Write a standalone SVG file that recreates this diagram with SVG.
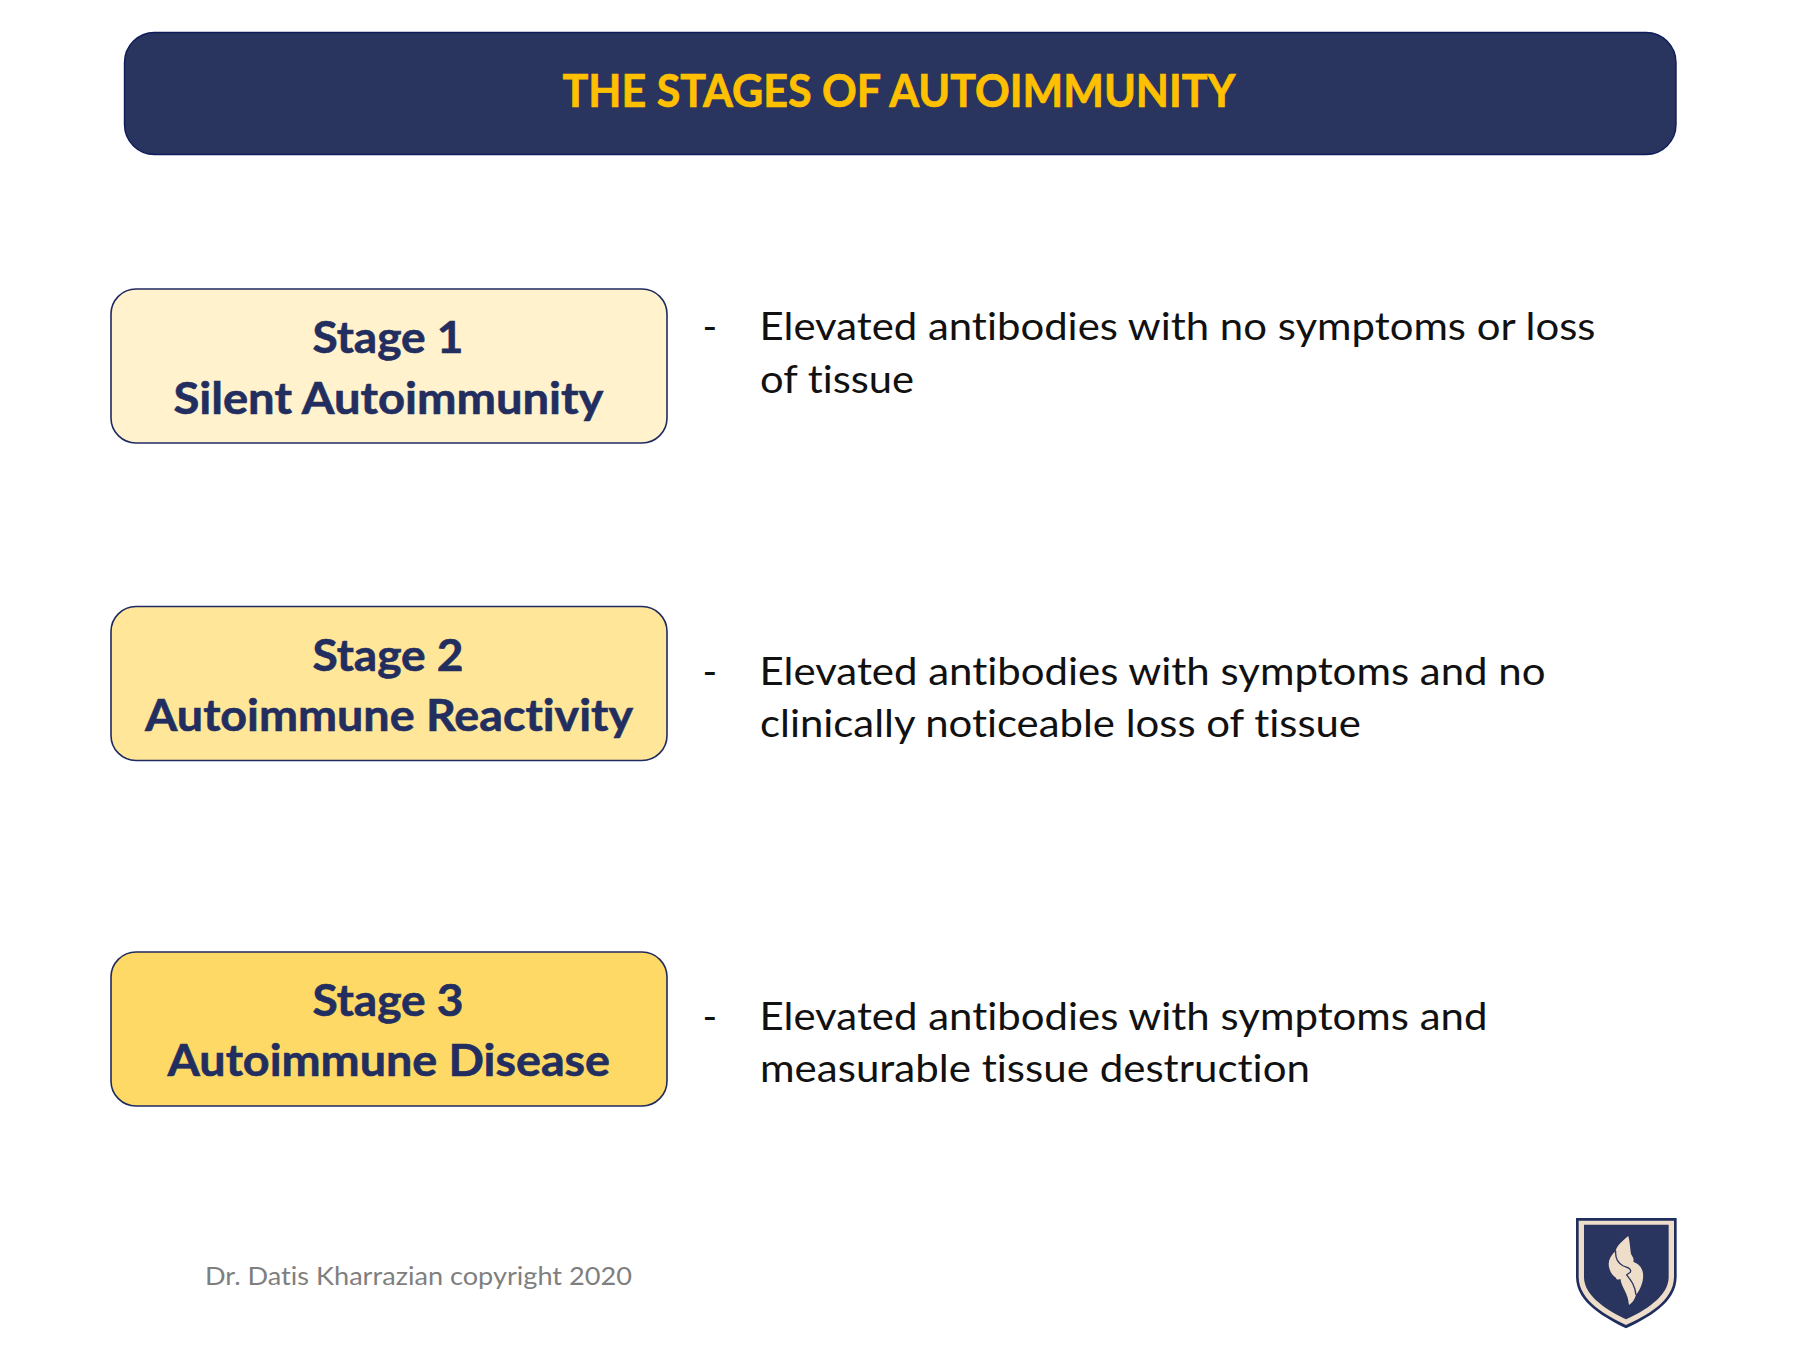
<svg xmlns="http://www.w3.org/2000/svg" width="1800" height="1350" viewBox="0 0 1800 1350">
<style>
text{font-family:"Lato","Liberation Sans",sans-serif;font-variant-ligatures:none}
.box{stroke:#1f2a60;stroke-width:1.6}
.stage{font-weight:700;font-size:44px;fill:#222e5f;stroke:#222e5f;stroke-width:.6}
.body{font-size:39.5px;fill:#111}
.navy{fill:#29345f}
.cream{fill:#eeddc8}
</style>
<rect width="1800" height="1350" fill="#fff"/>
<g id="header">
<rect x="124.500" y="32.500" width="1551.500" height="122" rx="30" fill="#29345f" stroke="#0f1c5c" stroke-width="1.400"/>
<text x="562.500" y="107" font-size="45" font-weight="700" fill="#ffc000" stroke="#ffc000" stroke-width=".7" textLength="673" lengthAdjust="spacingAndGlyphs">THE STAGES OF AUTOIMMUNITY</text>
</g>
<g id="stage1">
<rect class="box" x="111" y="289" width="556" height="154" rx="25" fill="#fff2cc"/>
<text class="stage" x="312.500" y="352.700" textLength="151" lengthAdjust="spacingAndGlyphs">Stage 1</text>
<text class="stage" x="173.500" y="414" textLength="430" lengthAdjust="spacingAndGlyphs">Silent Autoimmunity</text>
</g>
<g id="desc1">
<text class="body" x="702.500" y="340">-</text>
<text class="body" x="759.500" y="340" textLength="836" lengthAdjust="spacingAndGlyphs">Elevated antibodies with no symptoms or loss</text>
<text class="body" x="760" y="392.500" textLength="154" lengthAdjust="spacingAndGlyphs">of tissue</text>
</g>
<g id="stage2">
<rect class="box" x="111" y="606.500" width="556" height="154" rx="25" fill="#ffe699"/>
<text class="stage" x="312.500" y="671" textLength="151" lengthAdjust="spacingAndGlyphs">Stage 2</text>
<text class="stage" x="145" y="731" textLength="488" lengthAdjust="spacingAndGlyphs">Autoimmune Reactivity</text>
</g>
<g id="desc2">
<text class="body" x="702.500" y="684.500">-</text>
<text class="body" x="759.500" y="684.500" textLength="786" lengthAdjust="spacingAndGlyphs">Elevated antibodies with symptoms and no</text>
<text class="body" x="760" y="737" textLength="601" lengthAdjust="spacingAndGlyphs">clinically noticeable loss of tissue</text>
</g>
<g id="stage3">
<rect class="box" x="111" y="952" width="556" height="154" rx="25" fill="#ffd966"/>
<text class="stage" x="312.500" y="1016" textLength="151" lengthAdjust="spacingAndGlyphs">Stage 3</text>
<text class="stage" x="167.500" y="1076" textLength="442.500" lengthAdjust="spacingAndGlyphs">Autoimmune Disease</text>
</g>
<g id="desc3">
<text class="body" x="702.500" y="1030">-</text>
<text class="body" x="759.500" y="1030" textLength="728" lengthAdjust="spacingAndGlyphs">Elevated antibodies with symptoms and</text>
<text class="body" x="760" y="1082" textLength="550" lengthAdjust="spacingAndGlyphs">measurable tissue destruction</text>
</g>
<g id="footer">
<text x="205" y="1285" font-size="25" fill="#7f7f7f" textLength="427" lengthAdjust="spacingAndGlyphs">Dr. Datis Kharrazian copyright 2020</text>
</g>
<g id="logo">
<g transform="translate(1540 1190) scale(.33333)">
<path fill="#1f2d5f" d="M108 84H410V260C410 340 320 385 258 415C200 385 108 340 108 260Z"/>
<path class="cream" d="M116 92H402V260C402 335 315 378 258 405C205 378 116 335 116 260Z"/>
<path class="navy" d="M132 104H386V262C386 320 310 365 258 388C208 365 132 320 132 262Z"/>
</g>
<g transform="translate(1600 1230) scale(.33333)">
<path class="cream" d="M85 18C90 35 90 55 93 72C97 80 103 85 100 95C115 102 125 110 128 125C133 145 125 172 108 195C104 208 98 218 87 225C85 215 85 205 78 190C70 172 62 160 62 148C56 148 48 150 48 143C40 138 32 130 28 115C22 95 30 78 47 62C52 45 70 30 85 18Z"/>
<path fill="none" stroke="#29345f" stroke-width="4" d="M47 62C45 85 55 100 70 108C80 112 90 112 92 122C93 130 82 130 80 135C92 150 105 165 108 195"/>
</g>
</g>
</svg>
